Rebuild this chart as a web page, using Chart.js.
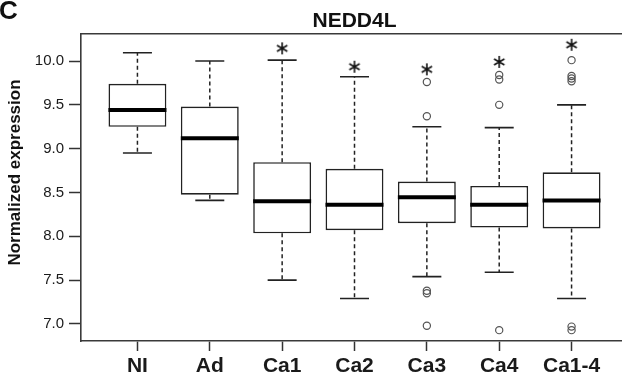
<!DOCTYPE html>
<html>
<head>
<meta charset="utf-8">
<script src="https://cdn.jsdelivr.net/npm/chart.js@4"></script>
<style>
  html, body { margin: 0; padding: 0; background: #fff; overflow: hidden; }
  canvas { display: block; }
</style>
</head>
<body>
<canvas id="chart" width="630" height="378"></canvas>
<script>
// box plot of NEDD4L expression per group
const categories = ['NI', 'Ad', 'Ca1', 'Ca2', 'Ca3', 'Ca4', 'Ca1-4'];
const whiskerLow = [8.95, 8.41, 7.50, 7.29, 7.54, 7.59, 7.29];
const quartile1 = [9.25, 8.475, 8.035, 8.07, 8.15, 8.10, 8.09];
const medians = [9.44, 9.12, 8.40, 8.36, 8.445, 8.36, 8.41];
const quartile3 = [9.74, 9.48, 8.845, 8.77, 8.625, 8.575, 8.73];
const whiskerHigh = [10.095, 10.0, 10.01, 9.82, 9.25, 9.24, 9.50];
const outliers = [
    [],
    [],
    [],
    [],
    [9.76, 9.37, 7.38, 7.35, 6.98],
    [9.84, 9.79, 9.50, 6.93],
    [10.01, 9.83, 9.80, 9.77, 6.97, 6.93]
];
// significance marks (null = none)
const starLevel = [null, null, 10.145, 9.935, 9.905, 9.99, 10.185];
const yTicks = [7.0, 7.5, 8.0, 8.5, 9.0, 9.5, 10.0];
const chartTitle = 'NEDD4L';
const yTitle = 'Normalized expression';
const panelLabel = 'C';

const FONT = "'Liberation Sans', Arial, sans-serif";
const INK = '#1a1a1a';

const xPos = categories.map((_, i) => i + 1);

// データ整形
const boxData = xPos.map((x, i) => ({ x: x, y: [quartile1[i], quartile3[i]] }));
const medianData = xPos.map((x, i) => ({ x: x, y: medians[i] }));
const capData = [];
const whiskerData = [];
xPos.forEach((x, i) => {
    capData.push({ x: x, y: whiskerLow[i] }, { x: x, y: whiskerHigh[i] });
    whiskerData.push({ x: x, y: quartile3[i] }, { x: x, y: whiskerHigh[i] }, { x: x, y: null });
    whiskerData.push({ x: x, y: quartile1[i] }, { x: x, y: whiskerLow[i] }, { x: x, y: null });
});
const outlierData = [];
outliers.forEach((list, i) => {
    list.forEach(v => outlierData.push({ x: xPos[i], y: v }));
});
const starData = [];
starLevel.forEach((v, i) => {
    if (v !== null) starData.push({ x: xPos[i], y: v });
});

// asterisk marker
function makeStar() {
    const c = document.createElement('canvas');
    c.width = 16;
    c.height = 16;
    const g = c.getContext('2d');
    g.strokeStyle = '#111';
    g.lineWidth = 1.6;
    g.beginPath();
    [90, 30, 150].forEach(a => {
        const r = a * Math.PI / 180;
        g.moveTo(8 - 6 * Math.cos(r), 8 - 6 * Math.sin(r));
        g.lineTo(8 + 6 * Math.cos(r), 8 + 6 * Math.sin(r));
    });
    g.stroke();
    return c;
}

const textPlugin = {
    id: 'panelText',
    afterDraw(chart) {
        const ctx = chart.ctx;
        const area = chart.chartArea;
        ctx.save();
        ctx.fillStyle = '#111';
        ctx.textBaseline = 'alphabetic';
        ctx.font = 'bold 26px ' + FONT;
        ctx.textAlign = 'left';
        ctx.fillText(panelLabel, -1, 19);
        ctx.font = 'bold 21px ' + FONT;
        ctx.textAlign = 'center';
        ctx.fillText(chartTitle, (area.left + area.right) / 2, 26.5);
        ctx.translate(20, 172.5);
        ctx.rotate(-Math.PI / 2);
        ctx.font = 'bold 17px ' + FONT;
        ctx.fillText(yTitle, 0, 0);
        ctx.restore();
    }
};

new Chart(document.getElementById('chart'), {
    type: 'bar',
    data: {
        datasets: [
            {
                type: 'scatter',
                data: medianData,
                pointStyle: 'line',
                pointRadius: 29,
                borderColor: '#000',
                borderWidth: 4,
                order: 0
            },
            {
                type: 'scatter',
                data: capData,
                pointStyle: 'line',
                pointRadius: 14.5,
                borderColor: '#222',
                borderWidth: 1.6,
                order: 1
            },
            {
                type: 'scatter',
                data: outlierData,
                pointStyle: 'circle',
                pointRadius: 3.6,
                borderColor: '#555',
                backgroundColor: 'rgba(0,0,0,0)',
                borderWidth: 1.2,
                order: 1
            },
            {
                type: 'scatter',
                data: starData,
                pointStyle: makeStar(),
                order: 1
            },
            {
                type: 'line',
                data: whiskerData,
                borderColor: '#222',
                borderWidth: 1.5,
                borderDash: [4, 3],
                pointRadius: 0,
                spanGaps: false,
                fill: false,
                order: 3
            },
            {
                type: 'bar',
                data: boxData,
                backgroundColor: '#fff',
                borderColor: '#222',
                borderWidth: 1.6,
                borderSkipped: false,
                barPercentage: 0.8,
                categoryPercentage: 1,
                order: 2
            }
        ]
    },
    options: {
        responsive: false,
        animation: false,
        events: [],
        layout: { autoPadding: false, padding: { left: 0, right: 2, top: 0, bottom: 0 } },
        plugins: {
            legend: { display: false },
            tooltip: { enabled: false }
        },
        scales: {
            x: {
                type: 'linear',
                position: 'bottom',
                min: 0.22,
                max: 7.78,
                bounds: 'data',
                offset: false,
                afterBuildTicks: s => { s.ticks = xPos.map(v => ({ value: v })); },
                afterFit: s => { s.height = 37; },
                ticks: {
                    callback: v => categories[v - 1],
                    color: INK,
                    font: { family: FONT, size: 21, weight: 'bold' },
                    padding: 3,
                    maxRotation: 0,
                    autoSkip: false
                },
                grid: {
                    offset: false,
                    drawOnChartArea: false,
                    tickLength: 10,
                    tickWidth: 1.5,
                    tickColor: '#333'
                },
                border: { display: true, color: '#3a3a3a', width: 1.6 }
            },
            x2: {
                type: 'linear',
                position: 'top',
                min: 0,
                max: 1,
                afterFit: s => { s.height = 33.5; },
                ticks: { display: false },
                grid: { drawOnChartArea: false, drawTicks: false },
                border: { display: true, color: '#3a3a3a', width: 1.6 }
            },
            y: {
                type: 'linear',
                min: 6.806,
                max: 10.314,
                bounds: 'data',
                beginAtZero: false,
                afterBuildTicks: s => { s.ticks = yTicks.map(v => ({ value: v })); },
                afterFit: s => { s.width = 81; },
                ticks: {
                    callback: v => v.toFixed(1),
                    color: INK,
                    font: { family: FONT, size: 15 },
                    padding: 5
                },
                grid: {
                    drawOnChartArea: false,
                    tickLength: 12,
                    tickWidth: 1.5,
                    tickColor: '#333'
                },
                border: { display: true, color: '#3a3a3a', width: 1.6 }
            }
        }
    },
    plugins: [textPlugin]
});
</script>
</body>
</html>
